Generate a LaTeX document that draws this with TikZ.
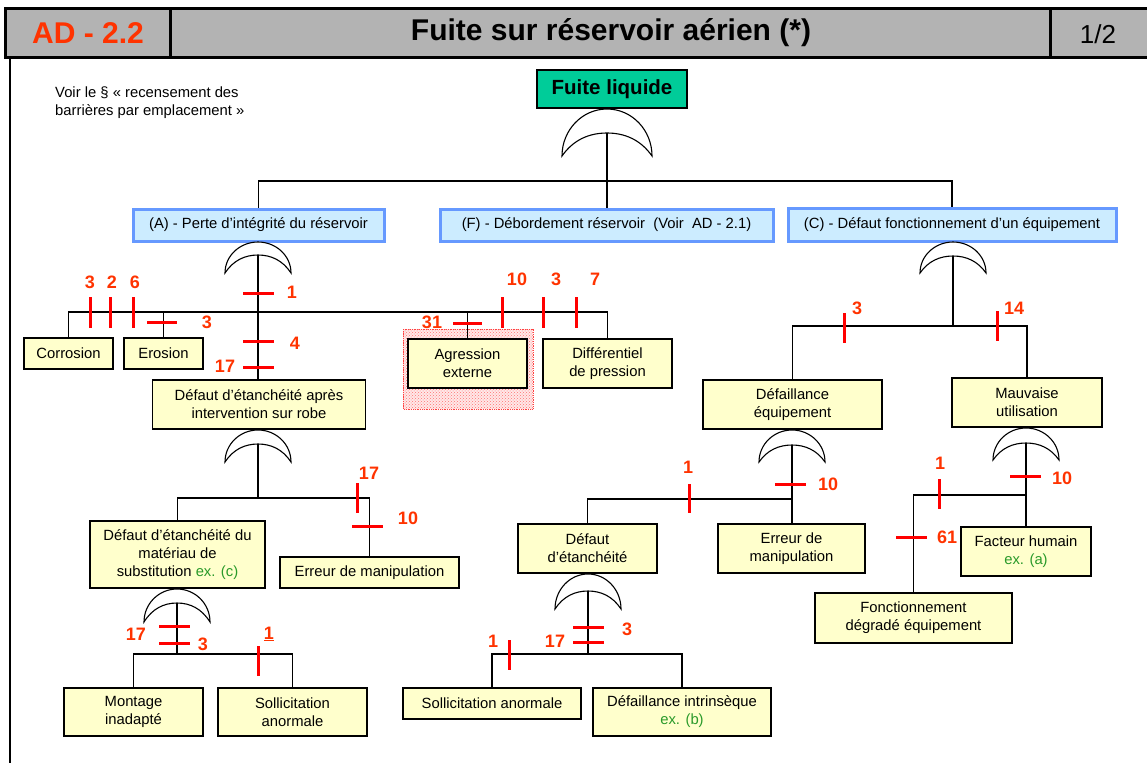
\documentclass[tikz,border=0pt]{standalone}
\usepackage{fontspec}
\setmainfont{Liberation Sans}
\usetikzlibrary{patterns}
\definecolor{headgray}{HTML}{B3B3B3}
\definecolor{numred}{HTML}{FF3300}
\definecolor{barred}{HTML}{FF0000}
\definecolor{topgreen}{HTML}{00CC99}
\definecolor{evtfill}{HTML}{CCECFF}
\definecolor{evtblue}{HTML}{6699FF}
\definecolor{boxyellow}{HTML}{FFFFCC}
\definecolor{exgreen}{HTML}{2A9A2A}
\newcommand\bxfont{\fontsize{14.8}{18}\selectfont}
\newcommand\nbfont{\fontsize{18}{20}\selectfont\bfseries}
\newcommand\exm[1]{\textcolor{exgreen}{#1}}
% OR gate: name, centre x, top y, tip y, inner apex y, half width
\newcommand\orgate[6]{%
  \pgfmathsetmacro\gateL{#2-#6}\pgfmathsetmacro\gateR{#2+#6}%
  \pgfmathsetmacro\gateOy{#4-0.552*(#4-#3)}%
  \pgfmathsetmacro\gateOl{#2-0.552*#6}\pgfmathsetmacro\gateOr{#2+0.552*#6}%
  \pgfmathsetmacro\gateIy{#4-0.7*(#4-#5)}%
  \pgfmathsetmacro\gateIa{#2+0.75*#6}\pgfmathsetmacro\gateIb{#2+0.4*#6}%
  \pgfmathsetmacro\gateIc{#2-0.4*#6}\pgfmathsetmacro\gateId{#2-0.75*#6}%
  \draw[gateline,fill=white]
    (\gateL,#4) .. controls (\gateL,\gateOy) and (\gateOl,#3) .. (#2,#3)
    .. controls (\gateOr,#3) and (\gateR,\gateOy) .. (\gateR,#4)
    .. controls (\gateIa,\gateIy) and (\gateIb,#5) .. (#2,#5)
    .. controls (\gateIc,#5) and (\gateId,\gateIy) .. (\gateL,#4) -- cycle;
  \coordinate (#1) at (#2,#5);}
\tikzset{
  box/.style={draw=black,line width=1.4pt,fill=boxyellow,inner sep=0pt,align=center,font=\bxfont},
  evt/.style={draw=evtblue,line width=3pt,fill=evtfill,inner sep=0pt,align=center,font=\bxfont},
  wire/.style={line width=1.3pt,draw=black},
  gateline/.style={line width=1.1pt,draw=black},
  bar/.style={line width=3pt,draw=barred},
  num/.style={font=\nbfont,text=numred,inner sep=0pt},
}
\begin{document}
\begin{tikzpicture}[x=1pt,y=-1pt]
\useasboundingbox (0,0) rectangle (1147,763);

% header band
\draw[line width=3pt,fill=headgray] (5,8) rectangle (1155,57);
\draw[line width=3pt] (170,8) -- (170,57) (1050,8) -- (1050,57);
\node[font=\fontsize{30}{32}\selectfont\bfseries,text=numred] (code) at (88,33) {AD - 2.2};
\node[font=\fontsize{30}{32}\selectfont\bfseries] (title) at (611,33) {Fuite sur réservoir aérien (*)};
\node[font=\fontsize{26}{28}\selectfont] (page) at (1098,34) {1/2};
\draw[line width=1.5pt] (10,57) -- (10,763);

\node[font=\bxfont,align=left,anchor=west,inner sep=0pt] (note) at (55,103)
  {Voir le § «~recensement des\\barrières par emplacement~»};

% dotted shaded zone around the external aggression event
\fill[red!9] (403,329) rectangle (533,409);
\fill[pattern=crosshatch dots,pattern color=red!55] (403,329) rectangle (533,409);
\draw[red!75,line width=0.8pt,densely dotted] (403,329) rectangle (533,409);

% events
\node[draw=black,line width=1.2pt,fill=topgreen,inner sep=0pt,minimum width=150pt,minimum height=38pt,
      font=\fontsize{20.5}{22}\selectfont\bfseries] (top) at (612,89) {Fuite liquide};
\node[evt,minimum width=251pt,minimum height=32pt] (A) at (258.5,225) {(A) - Perte d’intégrité du réservoir};
\node[evt,minimum width=333pt,minimum height=32pt] (F) at (606.5,225) {(F) - Débordement réservoir\ \ (Voir\ \ AD - 2.1)};
\node[evt,minimum width=328pt,minimum height=33pt] (C) at (952,225) {(C) - Défaut fonctionnement d’un équipement};

\node[box,minimum width=89pt,minimum height=31pt] (corr) at (68.5,353.5) {Corrosion};
\node[box,minimum width=79pt,minimum height=31pt] (ero) at (163.5,353.5) {Erosion};
\node[box,minimum width=213pt,minimum height=49pt] (dapres) at (259,404.5) {Défaut d’étanchéité après\\intervention sur robe};
\node[box,minimum width=119pt,minimum height=49pt] (agr) at (467.5,363.5) {Agression\\externe};
\node[box,minimum width=129pt,minimum height=49pt] (diff) at (607.5,363.5) {Différentiel\\de pression};
\node[box,minimum width=175pt,minimum height=67pt] (dmat) at (177.5,554.5) {Défaut d’étanchéité du\\matériau de\\substitution \exm{ex. (c)}};
\node[box,minimum width=179pt,minimum height=31pt] (erm1) at (369.5,572.5) {Erreur de manipulation};
\node[box,minimum width=139pt,minimum height=48pt] (mont) at (133.5,712) {Montage\\inadapté};
\node[box,minimum width=149pt,minimum height=48pt] (soll1) at (292.5,712) {Sollicitation\\anormale};
\node[box,minimum width=179pt,minimum height=49pt] (deteq) at (792.5,404.5) {Défaillance\\équipement};
\node[box,minimum width=150pt,minimum height=49pt] (mauv) at (1027,402.5) {Mauvaise\\utilisation};
\node[box,minimum width=139pt,minimum height=49pt] (detanch) at (587.5,548.5) {Défaut\\d’étanchéité};
\node[box,minimum width=147pt,minimum height=49pt] (erm2) at (791.5,548.5) {Erreur de\\manipulation};
\node[box,minimum width=130pt,minimum height=49pt] (fh) at (1026,551.5) {Facteur humain\\\exm{ex. (a)}};
\node[box,minimum width=197pt,minimum height=50pt] (fonc) at (913.5,618) {Fonctionnement\\dégradé équipement};
\node[box,minimum width=178pt,minimum height=31pt] (soll2) at (492,703.5) {Sollicitation anormale};
\node[box,minimum width=178pt,minimum height=48pt] (dint) at (682,712) {Défaillance intrinsèque\\\exm{ex. (b)}};

% gates
\orgate{g0}{607}{109}{156}{133}{45}
\orgate{gA}{258}{242}{273}{255}{33}
\orgate{gC}{953}{242}{273}{256}{33}
\orgate{gD}{258}{430}{462}{444}{33}
\orgate{gM}{177}{589}{622}{603}{33}
\orgate{gE}{792}{430}{462}{445}{33}
\orgate{gU}{1026}{428}{460}{443}{33}
\orgate{gT}{588}{574}{609}{591}{33}

% junctions
\coordinate (j0) at (607,181);
\coordinate (jA) at (258,312);
\coordinate (jD) at (258,498);
\coordinate (jM) at (177,654);
\coordinate (jC) at (953,326);
\coordinate (jE) at (792,499);
\coordinate (jU) at (1026,495);
\coordinate (jT) at (588,654);

% connectors
\draw[wire] (g0) -- (g0 |- F.north);
\draw[wire] (A.north) |- (j0) -| (C.north);
\draw[wire] (gA) -- (gA |- dapres.north);
\draw[wire] (corr.north) |- (jA) -| (diff.north);
\draw[wire] (ero.north) -- (ero.north |- jA);
\draw[wire] (agr.north) -- (agr.north |- jA);
\draw[wire] (gD) -- (jD);
\draw[wire] (dmat.north) |- (jD) -| (erm1.north);
\draw[wire] (gM) -- (jM);
\draw[wire] (mont.north) |- (jM) -| (soll1.north);
\draw[wire] (gC) -- (jC);
\draw[wire] (deteq.north) |- (jC) -| (mauv.north);
\draw[wire] (gE) -- (gE |- erm2.north);
\draw[wire] (detanch.north) |- (jE);
\draw[wire] (gU) -- (gU |- fh.north);
\draw[wire] (fonc.north) |- (jU);
\draw[wire] (gT) -- (jT);
\draw[wire] (soll2.north) |- (jT) -| (dint.north);

% barriers on the (A) branch
\draw[bar] (90,297) -- (90,328) (110,297) -- (110,328) (133,297) -- (133,328);
\node[num] (b1) at (90,282) {3};
\node[num] (b2) at (112,282) {2};
\node[num] (b3) at (135,282) {6};
\draw[bar] (147,322) -- (177,322);
\node[num] (b4) at (207,322) {3};
\draw[bar] (243,293) -- (274,293);
\node[num] (b5) at (292,292) {1};
\draw[bar] (243,341) -- (274,341);
\node[num] (b6) at (295,343) {4};
\draw[bar] (243,367) -- (274,367);
\node[num] (b7) at (225,366) {17};
\draw[bar] (453,323) -- (482,323);
\node[num] (b8) at (432,322) {31};
\draw[bar] (502,297) -- (502,328) (543,297) -- (543,328) (576,297) -- (576,328);
\node[num] (b9) at (517,279) {10};
\node[num] (b10) at (556,279) {3};
\node[num] (b11) at (595,279) {7};
\draw[bar] (357,483) -- (357,513);
\node[num] (b12) at (369,473) {17};
\draw[bar] (352,526) -- (383,526);
\node[num] (b13) at (408,518) {10};
\draw[bar] (159,626) -- (190,626) (159,643) -- (190,643);
\node[num] (b14) at (136,634) {17};
\node[num] (b15) at (203,644) {3};
\draw[bar] (258,646) -- (258,676);
\node[num] (b16) at (269,634) {\underline{1}};

% barriers on the (C) branch
\draw[bar] (844,313) -- (844,343);
\node[num] (b17) at (857,308) {3};
\draw[bar] (997,311) -- (997,341);
\node[num] (b18) at (1014,308) {14};
\draw[bar] (689,484) -- (689,513);
\node[num] (b19) at (688,467) {1};
\draw[bar] (775,484) -- (806,484);
\node[num] (b20) at (828,484) {10};
\draw[bar] (573,627) -- (604,627) (573,642) -- (604,642);
\node[num] (b21) at (627,629) {3};
\node[num] (b22) at (555,641) {17};
\draw[bar] (509,640) -- (509,670);
\node[num] (b23) at (493,641) {1};
\draw[bar] (1010,476) -- (1041,476);
\node[num] (b24) at (1062,478) {10};
\draw[bar] (939,479) -- (939,509);
\node[num] (b25) at (940,463) {1};
\draw[bar] (896,537) -- (927,537);
\node[num] (b26) at (947,537) {61};
\end{tikzpicture}
\end{document}
